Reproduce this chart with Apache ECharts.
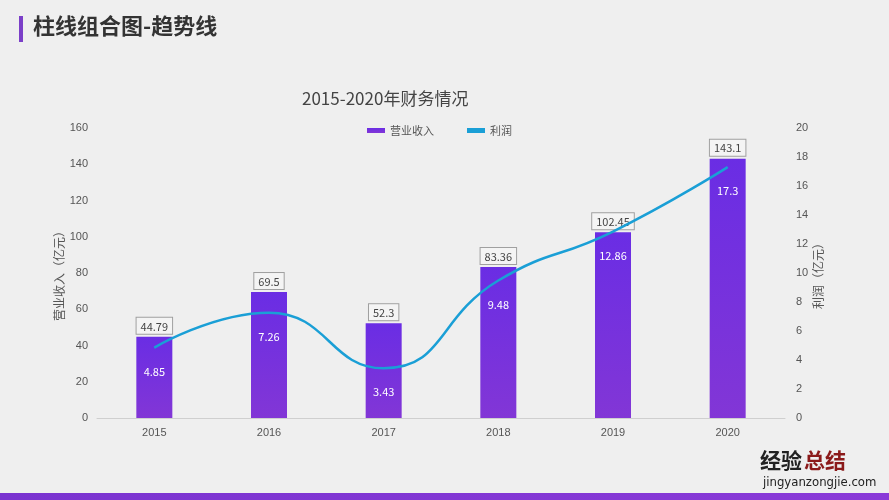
<!DOCTYPE html>
<html><head><meta charset="utf-8">
<script src="https://cdn.jsdelivr.net/npm/echarts@6/dist/echarts.min.js"></script>
<style>html,body{margin:0;padding:0;background:#efefef;}#c{width:889px;height:500px;}</style>
</head><body><div id="c"></div>
<script>
var categories = ['2015','2016','2017','2018','2019','2020'];
var revenue = [44.79, 69.5, 52.3, 83.36, 102.45, 143.1];
var profit = [4.85, 7.26, 3.43, 9.48, 12.86, 17.3];
var pageTitle = '柱线组合图-趋势线';
var chartTitle = '2015-2020年财务情况';

var chart = echarts.init(document.getElementById('c'));
var font = '"Noto Sans CJK SC","Microsoft YaHei",sans-serif';
var numFont = '"Liberation Sans",Arial,sans-serif';
chart.setOption({
  backgroundColor: '#efefef',
  textStyle: {fontFamily: font},
  title: {text: chartTitle, left: 297, top: 85, textStyle: {fontSize: 17, fontWeight: 'normal', color: '#444', fontFamily: font}},
  legend: {left: 362, top: 120, itemWidth: 18, itemHeight: 5, itemGap: 33, textStyle: {fontSize: 11, color: '#555'},
    data: [{name: '营业收入', icon: 'rect'}, {name: '利润', icon: 'rect'}]},
  grid: {left: 97, right: 104, top: 128, bottom: 82},
  xAxis: {type: 'category', data: categories,
    axisLine: {lineStyle: {color: '#cfcfcf'}}, axisTick: {show: false},
    axisLabel: {color: '#555', fontSize: 11, margin: 9, fontFamily: numFont}},
  yAxis: [
    {type: 'value', min: 0, max: 160, interval: 20, name: '营业收入（亿元）', nameLocation: 'middle', nameGap: 32, nameRotate: 90,
      nameMoveOverlap: false,
      nameTextStyle: {color: '#555', fontSize: 12},
      splitLine: {show: false}, axisLine: {show: false}, axisTick: {show: false},
      axisLabel: {color: '#555', fontSize: 11, margin: 9, fontFamily: numFont}},
    {type: 'value', min: 0, max: 20, interval: 2, name: '利润（亿元）', nameLocation: 'middle', nameGap: 27, nameRotate: 90,
      nameMoveOverlap: false,
      nameTextStyle: {color: '#555', fontSize: 12},
      splitLine: {show: false}, axisLine: {show: false}, axisTick: {show: false},
      axisLabel: {color: '#555', fontSize: 11, margin: 11, fontFamily: numFont}}
  ],
  series: [
    {name: '营业收入', type: 'bar', data: revenue, barWidth: 36, yAxisIndex: 0,
      itemStyle: {color: new echarts.graphic.LinearGradient(0,0,0,1,[{offset:0,color:'#6a2de4'},{offset:1,color:'#8236d6'}])},
      label: {show: true, position: 'top', distance: 3, color: '#444', fontSize: 11,
        backgroundColor: '#f4f4f4', borderColor: '#a0a0a0', borderWidth: 1, padding: [3,4,2,4]}},
    {name: '利润', type: 'line', data: profit, yAxisIndex: 1, smooth: true, showSymbol: true, symbol: 'circle', symbolSize: 1,
      lineStyle: {color: '#1a9fd6', width: 2.5}, itemStyle: {color: '#1a9fd6'},
      label: {show: true, position: 'bottom', distance: 18, color: '#ffffff', fontSize: 11}}
  ],
  graphic: [
    {type: 'rect', left: 19, top: 16, shape: {width: 4, height: 26}, style: {fill: '#7b3fc8'}},
    {type: 'text', left: 33, top: 15, style: {text: pageTitle, font: 'bold 22px ' + font, fill: '#333'}},
    {type: 'rect', left: 0, top: 493, shape: {width: 889, height: 7},
      style: {fill: new echarts.graphic.LinearGradient(0,0,1,0,[{offset:0,color:'#7a33d0'},{offset:1,color:'#8a3ad8'}])}},
    {type: 'text', left: 760, top: 450, style: {text: '经验', font: 'bold 21px ' + font, fill: '#222'}},
    {type: 'text', left: 804, top: 450, style: {text: '总结', font: 'bold 21px ' + font, fill: '#8b1a1a'}},
    {type: 'text', left: 763, top: 476, style: {text: 'jingyanzongjie.com', font: '13px "DejaVu Sans Condensed","Liberation Sans Narrow",sans-serif', fill: '#222'}}
  ]
});
</script></body></html>
